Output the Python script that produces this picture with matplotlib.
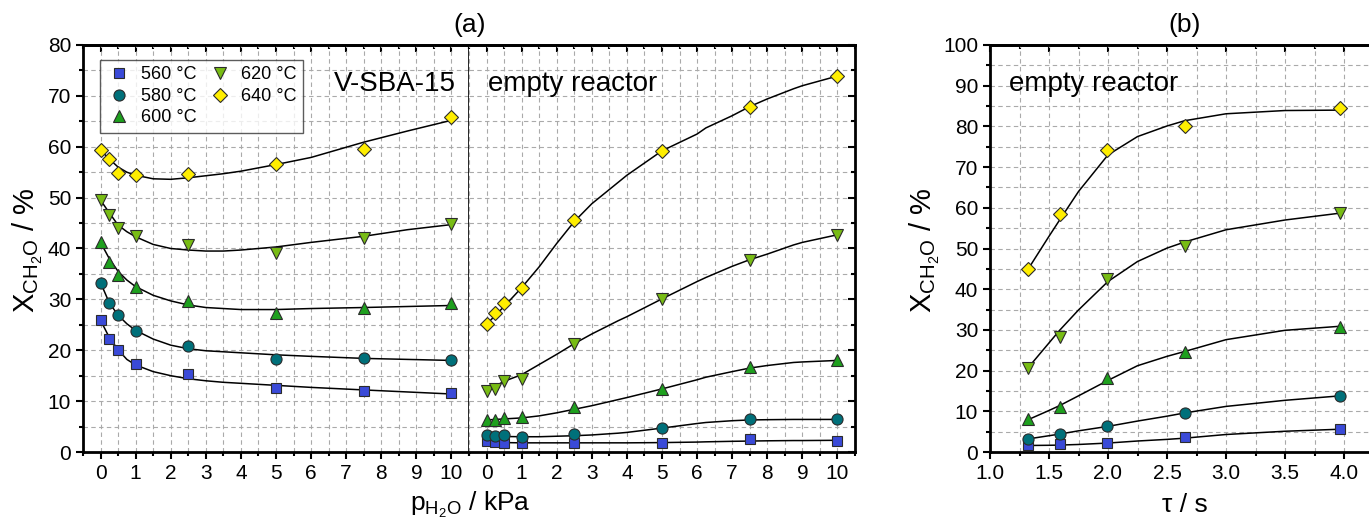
import matplotlib
matplotlib.use("Agg")
import matplotlib.pyplot as plt
from matplotlib.ticker import MultipleLocator

plt.rcParams['font.family'] = ['Liberation Sans', 'DejaVu Sans']
plt.rcParams['mathtext.fontset'] = 'custom'
plt.rcParams['mathtext.rm'] = 'Liberation Sans'
plt.rcParams['mathtext.it'] = 'Liberation Sans:italic'

# ---- data ----
temps = ["560 °C", "580 °C", "600 °C", "620 °C", "640 °C"]
colors = ["#3a4ad8", "#00707a", "#1ea01e", "#78bc14", "#ffee00"]
markers = ["s", "o", "^", "v", "D"]
msizes = [7, 8, 8.5, 8.5, 7.5]

# (a) V-SBA-15, measured points
p_h2o = [0, 0.25, 0.5, 1, 2.5, 5, 7.5, 10]
sba_560 = [25.9, 22.3, 20.1, 17.3, 15.3, 12.5, 12.0, 11.6]
sba_580 = [33.3, 29.2, 26.9, 23.7, 20.8, 18.2, 18.5, 18.1]
sba_600 = [41.2, 37.3, 34.8, 32.5, 29.6, 27.3, 28.4, 29.3]
sba_620 = [49.5, 46.6, 44.1, 42.5, 40.7, 39.2, 42.0, 44.8]
sba_640 = [59.3, 57.5, 54.9, 54.5, 54.7, 56.6, 59.6, 65.8]

# (a) V-SBA-15, fitted curves
sba_fit_x = [0, 0.25, 0.5, 0.75, 1, 1.5, 2, 2.5, 3, 3.5, 4, 5, 6, 7.5, 8.75, 10]
sba_fit_560 = [25.9, 22.5, 20.1, 18.2, 17.1, 15.8, 15.0, 14.4, 14.0, 13.7, 13.5, 13.1, 12.7, 12.2, 11.8, 11.4]
sba_fit_580 = [33.3, 29.3, 26.9, 25.2, 23.9, 22.2, 21.0, 20.3, 19.9, 19.7, 19.5, 19.1, 18.8, 18.4, 18.2, 18.0]
sba_fit_600 = [41.2, 38.0, 35.5, 33.8, 32.5, 30.8, 29.7, 28.9, 28.4, 28.2, 28.0, 28.0, 28.2, 28.4, 28.6, 28.8]
sba_fit_620 = [49.5, 47.0, 44.6, 43.3, 42.3, 40.8, 40.0, 39.7, 39.5, 39.5, 39.7, 40.3, 41.2, 42.4, 43.7, 44.7]
sba_fit_640 = [59.3, 57.6, 56.0, 55.0, 54.4, 53.7, 53.6, 53.9, 54.3, 54.7, 55.2, 56.5, 57.9, 60.9, 63.1, 65.2]

# (a) empty reactor, measured points
emp_560 = [2.2, 2.0, 1.8, 1.7, 1.7, 1.8, 2.5, 2.2]
emp_580 = [3.3, 3.2, 3.3, 3.0, 3.5, 4.7, 6.4, 6.4]
emp_600 = [6.3, 6.2, 6.6, 6.8, 8.8, 12.4, 16.7, 18.1]
emp_620 = [12.0, 12.4, 14.0, 14.3, 21.3, 30.1, 37.8, 42.7]
emp_640 = [25.1, 27.3, 29.2, 32.2, 45.6, 59.2, 67.9, 73.9]

# (a) empty reactor, fitted curves
emp_fit_x = [0, 0.5, 1, 1.5, 2, 2.5, 3, 3.75, 4, 5, 6, 6.25, 7, 7.5, 8, 8.75, 9, 10]
emp_fit_560 = [1.9, 1.85, 1.8, 1.8, 1.8, 1.8, 1.8, 1.8, 1.8, 1.85, 1.95, 2.0, 2.1, 2.15, 2.2, 2.25, 2.25, 2.3]
emp_fit_580 = [3.1, 3.05, 3.0, 3.0, 3.1, 3.2, 3.35, 3.7, 3.85, 4.7, 5.6, 5.8, 6.15, 6.3, 6.35, 6.4, 6.4, 6.4]
emp_fit_600 = [6.3, 6.5, 6.7, 7.1, 7.7, 8.4, 9.1, 10.3, 10.7, 12.4, 14.2, 14.7, 15.8, 16.5, 17.0, 17.6, 17.7, 18.0]
emp_fit_620 = [12.0, 13.9, 15.2, 17.2, 19.2, 21.3, 23.2, 25.8, 26.6, 30.1, 33.5, 34.3, 36.5, 37.8, 38.9, 40.7, 41.2, 42.7]
emp_fit_640 = [25.1, 28.6, 32.3, 36.4, 41.0, 45.3, 48.8, 53.0, 54.4, 59.2, 62.5, 63.7, 66.1, 67.9, 69.4, 71.4, 72.0, 73.9]

# (b) residence time, empty reactor
tau = [1.32, 1.59, 1.99, 2.65, 3.97]
tau_560 = [1.6, 1.9, 2.1, 3.7, 5.7]
tau_580 = [3.2, 4.4, 6.5, 9.7, 13.8]
tau_600 = [8.1, 11.0, 18.2, 24.5, 30.8]
tau_620 = [20.6, 28.2, 42.6, 50.5, 58.8]
tau_640 = [45.0, 58.4, 74.1, 80.1, 84.6]

tau_fit_x = [1.32, 1.5, 1.59, 1.75, 2.0, 2.25, 2.5, 2.65, 3.0, 3.5, 3.97]
tau_fit_560 = [1.6, 1.65, 1.7, 1.85, 2.2, 2.7, 3.1, 3.4, 4.3, 5.1, 5.6]
tau_fit_580 = [3.2, 4.0, 4.4, 5.2, 6.3, 7.6, 8.8, 9.6, 11.2, 12.7, 13.8]
tau_fit_600 = [7.9, 10.2, 11.4, 13.8, 17.6, 21.2, 23.5, 24.7, 27.6, 29.9, 30.9]
tau_fit_620 = [20.6, 26.8, 29.9, 34.9, 41.9, 46.8, 50.1, 51.6, 54.6, 57.0, 58.7]
tau_fit_640 = [44.8, 53.0, 57.0, 64.0, 73.0, 77.5, 80.1, 81.4, 83.1, 83.9, 84.0]


def style_axes(ax):
    ax.grid(True, which="both", linestyle=(0, (4, 3)), color="#aaaaaa", lw=0.8)
    ax.set_axisbelow(True)
    ax.tick_params(which="both", labelsize=15, width=1.5)
    ax.tick_params(which="major", length=5)
    ax.tick_params(which="minor", length=3)
    for s in ax.spines.values():
        s.set_linewidth(2)


def draw(ax, x, ys, fx, fys, label=True):
    for i in range(5):
        ax.plot(fx, fys[i], color="black", lw=1.1, zorder=2)
    for i in range(5):
        ax.plot(x, ys[i], ls="none", marker=markers[i], ms=msizes[i],
                mfc=colors[i], mec="#2b2b2b", mew=0.8, zorder=3,
                label=temps[i] if label else None)


fig = plt.figure(figsize=(13.69, 5.25), dpi=100)
H = 525.0
W = 1369.0
bottom = 1 - 452 / H
height = (452 - 45) / H

ax1 = fig.add_axes([83 / W, bottom, (469 - 83) / W, height])
ax2 = fig.add_axes([469 / W, bottom, (855 - 469) / W, height], sharey=ax1)
ax3 = fig.add_axes([990 / W, bottom, 383.5 / W, height])

draw(ax1, p_h2o, [sba_560, sba_580, sba_600, sba_620, sba_640],
     sba_fit_x, [sba_fit_560, sba_fit_580, sba_fit_600, sba_fit_620, sba_fit_640])
draw(ax2, p_h2o, [emp_560, emp_580, emp_600, emp_620, emp_640],
     emp_fit_x, [emp_fit_560, emp_fit_580, emp_fit_600, emp_fit_620, emp_fit_640], label=False)
draw(ax3, tau, [tau_560, tau_580, tau_600, tau_620, tau_640],
     tau_fit_x, [tau_fit_560, tau_fit_580, tau_fit_600, tau_fit_620, tau_fit_640], label=False)

for ax in (ax1, ax2):
    ax.set_xlim(-0.5, 10.5)
    ax.set_ylim(0, 80)
    ax.xaxis.set_major_locator(MultipleLocator(1))
    ax.xaxis.set_minor_locator(MultipleLocator(0.5))
    ax.yaxis.set_major_locator(MultipleLocator(10))
    ax.yaxis.set_minor_locator(MultipleLocator(5))
    style_axes(ax)

ax3.set_xlim(1.0, 4.25)
ax3.set_ylim(0, 100)
ax3.xaxis.set_major_locator(MultipleLocator(0.5))
ax3.xaxis.set_minor_locator(MultipleLocator(0.25))
ax3.yaxis.set_major_locator(MultipleLocator(10))
ax3.yaxis.set_minor_locator(MultipleLocator(5))
style_axes(ax3)
ax3.xaxis.set_major_formatter(plt.FormatStrFormatter("%.1f"))

# bottom/left ticks outward, top ticks inward
for ax in (ax1, ax2, ax3):
    ax.tick_params(axis="x", which="both", bottom=True, top=False, direction="out")
    sec = ax.secondary_xaxis("top")
    sec.set_xticks(ax.get_xticks())
    sec.set_xticks(list(ax.xaxis.get_minorticklocs()), minor=True)
    sec.tick_params(which="major", direction="in", length=5, width=1.5, labeltop=False)
    sec.tick_params(which="minor", direction="in", length=3, width=1.5)
    sec.spines["top"].set_linewidth(2)

ax1.tick_params(axis="y", which="both", left=True, right=False, direction="out")
ax1.spines["right"].set_linewidth(1.2)
ax2.spines["left"].set_visible(False)
ax2.tick_params(axis="y", which="both", left=False, right=True, direction="in",
                labelleft=False)
ax3.tick_params(axis="y", which="both", left=True, right=False, direction="out")

# texts
ax1.text(0.965, 0.905, "V-SBA-15", transform=ax1.transAxes, ha="right",
         va="center", fontsize=20)
ax2.text(0.05, 0.905, "empty reactor", transform=ax2.transAxes, ha="left",
         va="center", fontsize=20)
ax3.text(0.05, 0.905, "empty reactor", transform=ax3.transAxes, ha="left",
         va="center", fontsize=20)

leg = ax1.legend(ncol=2, loc="upper left", bbox_to_anchor=(0.044, 0.963),
                 borderaxespad=0, fontsize=13, frameon=True, fancybox=False,
                 edgecolor="#333333", handletextpad=0.5, columnspacing=0.6,
                 labelspacing=0.25, borderpad=0.35, handlelength=1.4)
leg.get_frame().set_linewidth(1.0)

fig.text(470 / W, 1 - 25 / H, "(a)", ha="center", va="center", fontsize=19)
fig.text(1185 / W, 1 - 25 / H, "(b)", ha="center", va="center", fontsize=19)
fig.text(470 / W, 1 - 505 / H, r"p$_{\mathregular{H_2O}}$ / kPa", ha="center",
         va="center", fontsize=19)
fig.text(1185 / W, 1 - 505 / H, "τ / s", ha="center", va="center", fontsize=19)
fig.text(28 / W, 1 - 250 / H, r"X$_{\mathregular{CH_2O}}$ / %", ha="center",
         va="center", rotation=90, fontsize=21)
fig.text(925 / W, 1 - 250 / H, r"X$_{\mathregular{CH_2O}}$ / %", ha="center",
         va="center", rotation=90, fontsize=21)

fig.savefig("out.png", dpi=100)
